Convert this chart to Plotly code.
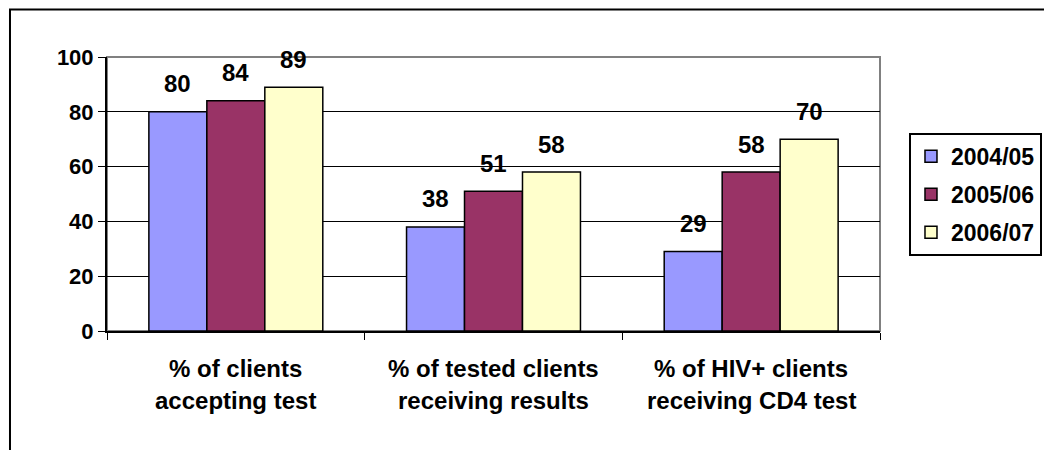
import plotly.graph_objects as go

# ======================================================
# Data
# ======================================================
categories = ["accepting", "results", "cd4"]
label_line1 = ["% of clients", "% of tested clients", "% of HIV+ clients"]
label_line2 = ["accepting test", "receiving results", "receiving CD4 test"]

years = ["2004/05", "2005/06", "2006/07"]
values_0405 = [80, 38, 29]
values_0506 = [84, 51, 58]
values_0607 = [89, 58, 70]

colors = ["#9999FF", "#993366", "#FFFFCC"]
series = [values_0405, values_0506, values_0607]

FONT = "Liberation Sans, Arial, sans-serif"
FS = 24

fig = go.Figure()

for i, (name, vals) in enumerate(zip(years, series)):
    fig.add_trace(
        go.Bar(
            x=categories,
            y=vals,
            name=f"<b>{name}</b>",
            legendgroup=name,
            marker=dict(color=colors[i], line=dict(color="black", width=1.5)),
        )
    )

# data labels above bars
bar_px = 58
for i, vals in enumerate(series):
    for cat, v in zip(categories, vals):
        fig.add_annotation(
            x=cat, y=v, xref="x", yref="y",
            text=f"<b>{v}</b>", showarrow=False,
            xshift=(i - 1) * bar_px, yshift=28,
            font=dict(size=FS, color="black", family=FONT),
        )

# category labels (two lines, wide spacing)
for cat, l1, l2 in zip(categories, label_line1, label_line2):
    fig.add_annotation(
        x=cat, y=0, xref="x", yref="y", text=f"<b>{l1}</b>",
        showarrow=False, yshift=-37, font=dict(size=FS, color="black", family=FONT),
    )
    fig.add_annotation(
        x=cat, y=0, xref="x", yref="y", text=f"<b>{l2}</b>",
        showarrow=False, yshift=-69, font=dict(size=FS, color="black", family=FONT),
    )

# outer chart frame
fig.add_shape(
    type="rect", xref="paper", yref="paper",
    x0=-0.1255, x1=1.4, y0=-0.6, y1=1.173,
    line=dict(color="black", width=2), fillcolor="rgba(0,0,0,0)",
)
# plot area border (top/right grey)
fig.add_shape(
    type="rect", xref="paper", yref="paper",
    x0=0, x1=1, y0=0, y1=1,
    line=dict(color="#808080", width=2), fillcolor="rgba(0,0,0,0)", layer="below",
)

fig.update_layout(
    width=1052,
    height=450,
    barmode="group",
    bargap=0.325,
    bargroupgap=0,
    margin=dict(l=99, r=180, t=49, b=127, autoexpand=False),
    paper_bgcolor="white",
    plot_bgcolor="white",
    font=dict(family=FONT, color="black", size=FS),
    xaxis=dict(
        showticklabels=False,
        tickson="boundaries",
        ticks="outside",
        ticklen=7,
        tickcolor="black",
        showline=True,
        linecolor="black",
        linewidth=2,
        showgrid=False,
    ),
    yaxis=dict(
        range=[0, 100],
        dtick=20,
        ticks="outside",
        ticklen=7,
        tickcolor="black",
        showline=True,
        linecolor="black",
        linewidth=2,
        showgrid=True,
        gridcolor="black",
        gridwidth=1,
        zeroline=False,
        tickfont=dict(size=22, family=FONT),
        tickprefix="<b>",
        ticksuffix="</b>",
    ),
    legend=dict(
        x=1.0375, y=0.723, xanchor="left", yanchor="top",
        bordercolor="black", borderwidth=2,
        font=dict(size=23, family=FONT),
        traceorder="grouped",
        tracegroupgap=5,
        itemwidth=30,
    ),
    showlegend=True,
)

fig.write_html("out.html")
